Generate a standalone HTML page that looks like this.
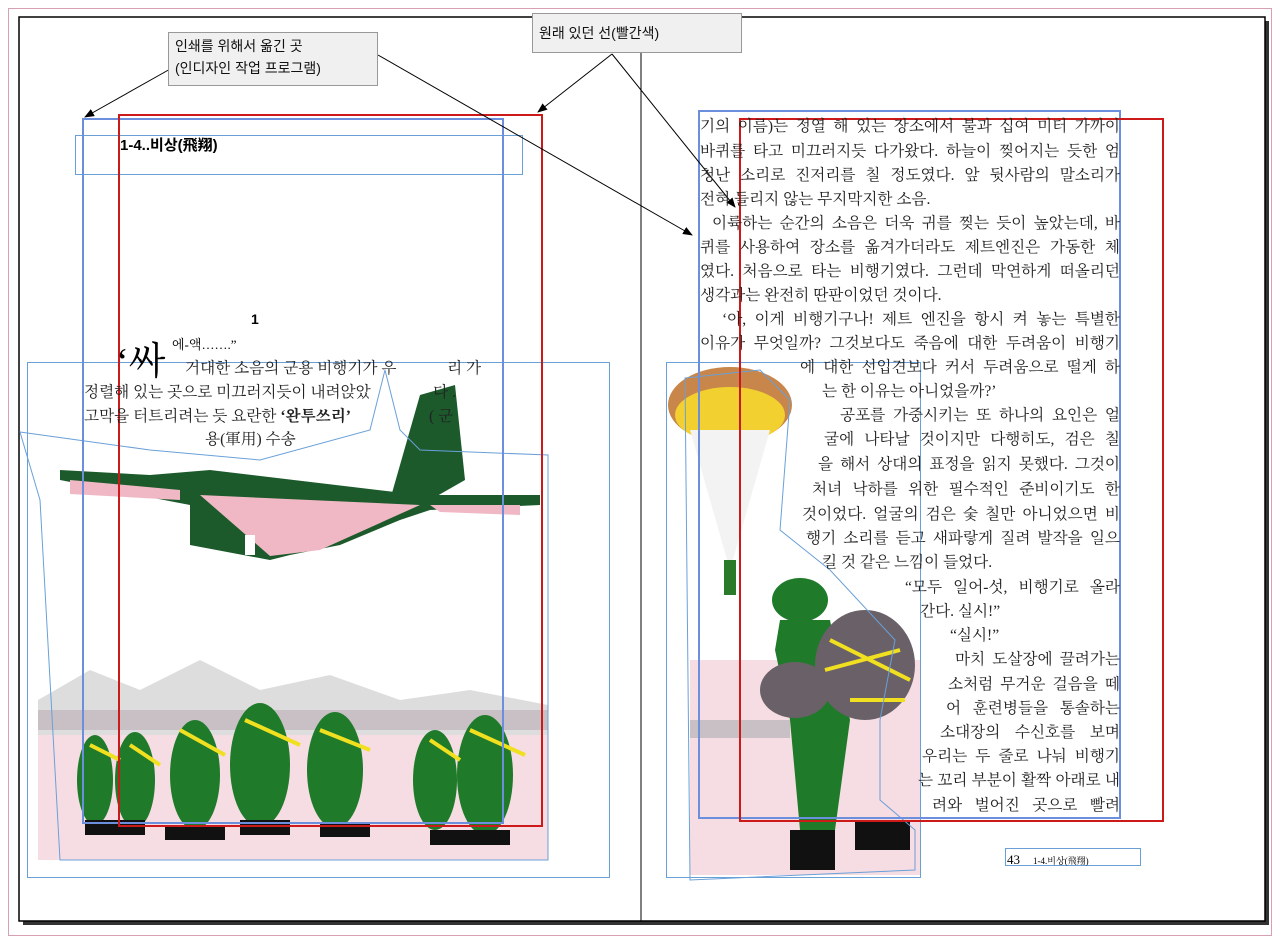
<!DOCTYPE html>
<html><head><meta charset="utf-8"><style>
body{margin:0;width:1279px;height:941px;background:#fff;position:relative;overflow:hidden;font-family:"Liberation Serif","Noto Serif CJK KR","Noto Serif CJK SC",serif;}
.a{position:absolute;white-space:nowrap;}
.t{position:absolute;font-size:15.6px;color:#222;white-space:nowrap;line-height:18px;}
.j{text-align:justify;text-align-last:justify;}
.box{position:absolute;border:1px solid #999;background:#f0f0f0;font-family:"Liberation Sans","Noto Sans CJK KR",sans-serif;font-size:14px;color:#111;padding:2px 6px;line-height:22px;}
</style></head><body>
<svg width="1279" height="941" style="position:absolute;left:0;top:0">
<rect x="8.5" y="8.5" width="1263" height="927" fill="none" stroke="#d8a0b0"/>
<rect x="23" y="21" width="1246" height="904" fill="#333"/>
<rect x="19" y="17" width="1246" height="904" fill="#fff" stroke="#000" stroke-width="1.5"/>
<line x1="641" y1="17" x2="641" y2="921" stroke="#000"/>
<rect x="38" y="730" width="510" height="130" fill="#f6dde3"/>
<path d="M38 700 L90 670 L140 690 L200 660 L260 690 L330 675 L400 700 L470 690 L548 705 L548 735 L38 735Z" fill="#ddd"/>
<path d="M38 710 L548 710 L548 730 L38 730Z" fill="#c8c0c4"/>
<path d="M60 470 L150 475 L210 470 L420 495 L540 495 L540 505 L430 510 L400 520 L340 545 L290 555 L270 560 L190 545 L190 505 L60 480Z" fill="#1c5a2c"/>
<path d="M390 500 L420 395 L455 385 L465 480 L430 500Z" fill="#1c5a2c"/>
<path d="M200 495 L420 505 L320 550 L270 556Z" fill="#f0b8c4"/>
<path d="M70 480 L180 490 L180 500 L70 494Z" fill="#f0b8c4"/>
<path d="M430 505 L520 505 L520 515 L440 512Z" fill="#f0b8c4"/>
<rect x="245" y="535" width="10" height="20" fill="#fff"/>
<g fill="#1f7a2a">
<ellipse cx="95" cy="780" rx="18" ry="45"/><ellipse cx="135" cy="780" rx="20" ry="48"/><ellipse cx="195" cy="775" rx="25" ry="55"/><ellipse cx="260" cy="765" rx="30" ry="62"/><ellipse cx="335" cy="770" rx="28" ry="58"/><ellipse cx="435" cy="780" rx="22" ry="50"/><ellipse cx="485" cy="775" rx="28" ry="60"/>
</g>
<g stroke="#f0e020" stroke-width="4" fill="none">
<path d="M90 745 L120 760 M130 745 L160 765 M180 730 L225 755 M245 720 L300 745 M320 730 L370 750 M430 740 L460 760 M470 730 L525 755"/>
</g>
<g fill="#111"><rect x="85" y="820" width="60" height="15"/><rect x="165" y="825" width="60" height="15"/><rect x="240" y="820" width="50" height="15"/><rect x="320" y="822" width="50" height="15"/><rect x="430" y="830" width="80" height="15"/></g>
<rect x="690" y="660" width="230" height="215" fill="#f6dde3"/>
<rect x="690" y="720" width="100" height="18" fill="#c8c0c4"/>
<ellipse cx="730" cy="405" rx="62" ry="38" fill="#c8864a"/>
<ellipse cx="730" cy="415" rx="55" ry="28" fill="#f2d030"/>
<path d="M690 430 L730 570 L770 430" fill="#f3f3f3"/>
<rect x="724" y="560" width="12" height="35" fill="#2a7a2a"/>
<ellipse cx="800" cy="600" rx="28" ry="22" fill="#1f7a2a"/>
<path d="M780 620 L830 620 L850 720 L835 830 L800 830 L790 720 L775 650Z" fill="#1f7a2a"/>
<ellipse cx="865" cy="665" rx="50" ry="55" fill="#6a6068"/>
<ellipse cx="795" cy="690" rx="35" ry="28" fill="#6a6068"/>
<path d="M830 640 L910 680 M825 670 L900 650 M850 700 L905 700" stroke="#f0e020" stroke-width="4" fill="none"/>
<rect x="790" y="830" width="45" height="40" fill="#111"/><rect x="855" y="820" width="55" height="30" fill="#111"/>
<g fill="none" stroke="#6aa0d8" stroke-width="1">
<rect x="75.5" y="135.5" width="447" height="39"/>
<rect x="27.5" y="362.5" width="582" height="515"/>
<rect x="666.5" y="362.5" width="254" height="515"/>
<rect x="1005.5" y="848.5" width="135" height="17"/>
<path d="M20 432 L150 450 L260 460 L370 430 L385 370 L400 430 L420 450 L548 455 L548 860 L60 860 L40 500 Z"/>
<path d="M685 378 L760 370 L790 400 L780 530 L830 570 L895 640 L880 720 L880 800 L915 830 L915 870 L690 880Z"/>
</g>
<rect x="83" y="119" width="420" height="704" fill="none" stroke="#6b8fdc" stroke-width="2"/>
<rect x="119" y="115" width="423" height="711" fill="none" stroke="#cc1a1a" stroke-width="2"/>
<rect x="699" y="111" width="421" height="707" fill="none" stroke="#6b8fdc" stroke-width="2"/>
<rect x="740" y="119" width="423" height="702" fill="none" stroke="#cc1a1a" stroke-width="2"/>
<defs><marker id="m" markerWidth="10" markerHeight="8" refX="9" refY="4" orient="auto"><path d="M0 0 L10 4 L0 8Z" fill="#000"/></marker></defs>
<g stroke="#000" stroke-width="1" marker-end="url(#m)">
<line x1="172" y1="68" x2="85" y2="117"/>
<line x1="378" y1="55" x2="692" y2="235"/>
<line x1="612" y1="54" x2="538" y2="112"/>
<line x1="612" y1="54" x2="735" y2="207"/>
</g>
</svg>
<div class="box" style="left:168px;top:32px;width:196px;height:48px;">인쇄를 위해서 옮긴 곳<br>(인디자인 작업 프로그램)</div>
<div class="box" style="left:532px;top:13px;width:196px;height:34px;line-height:34px;">원래 있던 선(빨간색)</div>
<div class="a" style="left:120px;top:134px;font:bold 15px 'Liberation Sans','Noto Sans CJK KR',sans-serif;">1-4..비상(飛翔)</div>
<div class="a" style="left:251px;top:311px;font:bold 14px 'Liberation Sans',sans-serif;">1</div>
<div class="a" style="left:116px;top:330px;font-size:38px;">‘싸</div>
<div class="a" style="left:172px;top:334px;font-size:13px;">에-액…….”</div>
<div class="t" style="left:185px;top:360px;">거대한 소음의 군용 비행기가 우　　　 리 가</div>
<div class="t" style="left:84px;top:384px;">정렬해 있는 곳으로 미끄러지듯이 내려앉았　　　　다 .</div>
<div class="t" style="left:84px;top:408px;">고막을 터트리려는 듯 요란한 <b>‘완투쓰리’</b>　　　　　( 군</div>
<div class="t" style="left:205px;top:431px;">용(軍用) 수송</div>
<div class="t j" style="left:700px;top:118px;width:420px">기의 이름)는 정열 해 있는 장소에서 불과 십여 미터 가까이</div>
<div class="t j" style="left:700px;top:143px;width:420px">바퀴를 타고 미끄러지듯 다가왔다. 하늘이 찢어지는 듯한 엄</div>
<div class="t j" style="left:700px;top:167px;width:420px">청난 소리로 진저리를 칠 정도였다. 앞 뒷사람의 말소리가</div>
<div class="t" style="left:700px;top:191px;">전혀 들리지 않는 무지막지한 소음.</div>
<div class="t j" style="left:712px;top:215px;width:408px">이륙하는 순간의 소음은 더욱 귀를 찢는 듯이 높았는데, 바</div>
<div class="t j" style="left:700px;top:239px;width:420px">퀴를 사용하여 장소를 옮겨가더라도 제트엔진은 가동한 체</div>
<div class="t j" style="left:700px;top:263px;width:420px">였다. 처음으로 타는 비행기였다. 그런데 막연하게 떠올리던</div>
<div class="t" style="left:700px;top:287px;">생각과는 완전히 딴판이었던 것이다.</div>
<div class="t j" style="left:722px;top:311px;width:398px">‘아, 이게 비행기구나! 제트 엔진을 항시 켜 놓는 특별한</div>
<div class="t j" style="left:700px;top:335px;width:420px">이유가 무엇일까? 그것보다도 죽음에 대한 두려움이 비행기</div>
<div class="t j" style="left:800px;top:359px;width:320px">에 대한 선입견보다 커서 두려움으로 떨게 하</div>
<div class="t" style="left:822px;top:383px;">는 한 이유는 아니었을까?’</div>
<div class="t j" style="left:840px;top:407px;width:280px">공포를 가중시키는 또 하나의 요인은 얼</div>
<div class="t j" style="left:824px;top:431px;width:296px">굴에 나타날 것이지만 다행히도, 검은 칠</div>
<div class="t j" style="left:818px;top:456px;width:302px">을 해서 상대의 표정을 읽지 못했다. 그것이</div>
<div class="t j" style="left:812px;top:481px;width:308px">처녀 낙하를 위한 필수적인 준비이기도 한</div>
<div class="t j" style="left:802px;top:506px;width:318px">것이었다. 얼굴의 검은 숯 칠만 아니었으면 비</div>
<div class="t j" style="left:806px;top:530px;width:314px">행기 소리를 듣고 새파랗게 질려 발작을 일으</div>
<div class="t" style="left:822px;top:554px;">킬 것 같은 느낌이 들었다.</div>
<div class="t j" style="left:905px;top:579px;width:215px">“모두 일어-섯, 비행기로 올라</div>
<div class="t" style="left:920px;top:603px;">간다. 실시!”</div>
<div class="t" style="left:950px;top:627px;">“실시!”</div>
<div class="t j" style="left:955px;top:651px;width:165px">마치 도살장에 끌려가는</div>
<div class="t j" style="left:948px;top:676px;width:172px">소처럼 무거운 걸음을 떼</div>
<div class="t j" style="left:946px;top:700px;width:174px">어 훈련병들을 통솔하는</div>
<div class="t j" style="left:940px;top:724px;width:180px">소대장의 수신호를 보며</div>
<div class="t j" style="left:922px;top:748px;width:198px">우리는 두 줄로 나눠 비행기</div>
<div class="t j" style="left:918px;top:772px;width:202px">는 꼬리 부분이 활짝 아래로 내</div>
<div class="t j" style="left:932px;top:797px;width:188px">려와 벌어진 곳으로 빨려</div>
<div class="a" style="left:1007px;top:849px;font-size:13px;">43　<span style="font-size:9px">1-4.비상(飛翔)</span></div>
</body></html>
